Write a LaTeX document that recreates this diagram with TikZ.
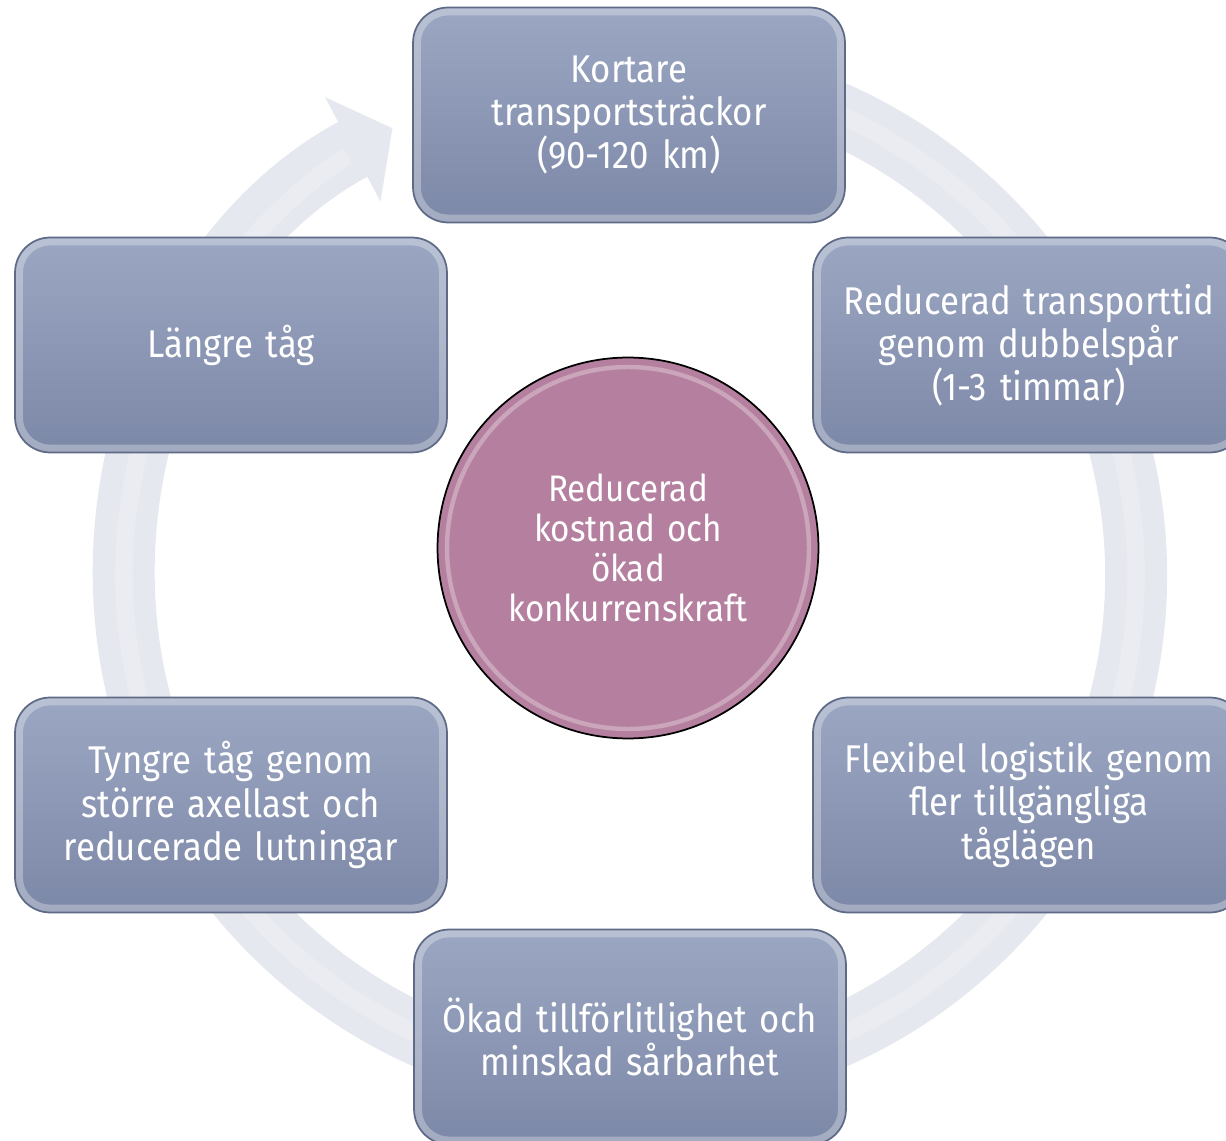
\documentclass[tikz,border=0pt]{standalone}
\usepackage{fontspec}
\setmainfont{Fira Sans}[FakeStretch=0.9]
\usetikzlibrary{arrows.meta}
\definecolor{boxtop}{HTML}{9BA7C2}
\definecolor{boxbottom}{HTML}{7C88A7}
\definecolor{boxedge}{HTML}{5E6A86}
\definecolor{ringfill}{HTML}{E6E8EF}
\definecolor{midfill}{HTML}{B5809F}

\begin{document}
\begin{tikzpicture}[x=0.02cm,y=0.02cm,
    stepbox/.style={rectangle, rounded corners=20pt, top color=boxtop, bottom color=boxbottom,
        draw=boxedge, line width=1pt, minimum width=8.64cm, minimum height=4.3cm,
        text width=8.4cm, align=center, text=white, font=\fontsize{22}{24.5}\selectfont,
        path picture={\draw[white, opacity=.3, line width=9pt, rounded corners=20pt]
            (path picture bounding box.south west) rectangle (path picture bounding box.north east);}},
    hub/.style={circle, fill=midfill, draw=black, line width=1pt, minimum size=7.62cm,
        text width=5.6cm, align=center, text=white, font=\fontsize{21}{22.8}\selectfont,
        path picture={\draw[white, opacity=.3, line width=2.5pt]
            (path picture bounding box.center) circle[radius=3.62cm];}},
    ringarrow/.style={ringfill, line width=1.24cm, -{Triangle[width=2.32cm,length=0.9cm]}}]
    \useasboundingbox (0,0) rectangle (1226,1140);

    \coordinate (ringmid) at (630,565);
    \draw[ringarrow] (ringmid) ++(105:506) arc[start angle=105, end angle=-242, radius=506];
    \draw[white, opacity=.2, line width=.35cm] (ringmid) ++(105:506) arc[start angle=105, end angle=-236, radius=506];

    \node[stepbox] (kortare) at (629,1025) {Kortare\\transportsträckor\\(90-120 km)};
    \node[stepbox] (restid) at (1029,795) {Reducerad transporttid\\genom dubbelspår\\(1-3 timmar)};
    \node[stepbox] (flexibel) at (1029,335) {Flexibel logistik genom\\fler tillgängliga\\tåglägen};
    \node[stepbox] (okad) at (630,103) {Ökad tillförlitlighet och\\minskad sårbarhet};
    \node[stepbox] (tyngre) at (231,335) {Tyngre tåg genom\\större axellast och\\reducerade lutningar};
    \node[stepbox] (langre) at (231,795) {Längre tåg};

    \node[hub] (mitt) at (628,592) {Reducerad\\kostnad och\\ökad\\konkurrenskraft};
\end{tikzpicture}
\end{document}
